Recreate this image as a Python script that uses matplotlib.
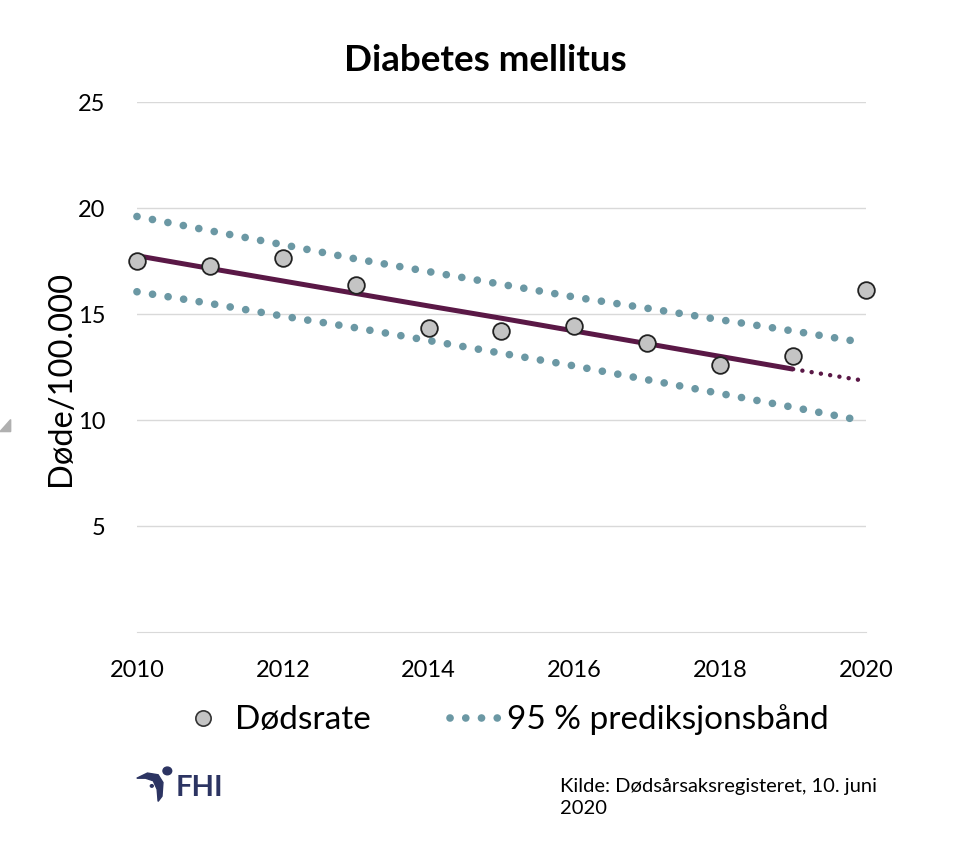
import matplotlib.pyplot as plt
from matplotlib.lines import Line2D
from matplotlib.patches import Polygon, Circle

plt.rcParams['font.family'] = ['Lato', 'DejaVu Sans']

years = [2010, 2011, 2012, 2013, 2014, 2015, 2016, 2017, 2018, 2019, 2020]
dodsrate = [17.5, 17.26, 17.64, 16.37, 14.34, 14.2, 14.43, 13.63, 12.6, 13.02, 16.13]
trend = [17.75, 17.15, 16.56, 15.97, 15.38, 14.8, 14.2, 13.6, 13.0, 12.4]
trend_ext_years = [2019, 2020]
trend_ext = [12.4, 11.84]
upper = [19.6, 18.93, 18.27, 17.6, 17.0, 16.4, 15.8, 15.27, 14.73, 14.2, 13.7]
lower = [16.05, 15.5, 14.9, 14.35, 13.75, 13.15, 12.55, 11.9, 11.25, 10.6, 9.95]

band_color = '#6b98a4'
trend_color = '#5a1846'
navy = '#2c3462'

fig = plt.figure(figsize=(9.7, 8.58), dpi=100)
ax = fig.add_axes([0.1412, 0.2634, 0.7516, 0.6177])

ax.plot(years[:-1] + [2019.85], upper[:-1] + [13.72], color=band_color, lw=5.5,
        linestyle=(0, (0.01, 2.05)), dash_capstyle='round')
ax.plot(years[:-1] + [2019.85], lower[:-1] + [10.03], color=band_color, lw=5.5,
        linestyle=(0, (0.01, 2.05)), dash_capstyle='round')
ax.plot(years[:-1], trend, color=trend_color, lw=3.6, solid_capstyle='butt')
ax.plot(trend_ext_years, trend_ext, color=trend_color, lw=3.2,
        linestyle=(0, (0.01, 2.1)), dash_capstyle='round')
ax.plot(years, dodsrate, 'o', ms=12, mfc='#c4c4c4', mec='#222222', mew=1.3, zorder=5)

ax.set_xlim(2010, 2020)
ax.set_ylim(0, 25)
ax.set_yticks([5, 10, 15, 20, 25])
ax.set_xticks([2010, 2012, 2014, 2016, 2018, 2020])
ax.grid(axis='y', color='#d9d9d9', lw=1)
ax.set_axisbelow(True)
for s in ['left', 'right', 'top']:
    ax.spines[s].set_visible(False)
ax.spines['bottom'].set_color('#d9d9d9')
ax.tick_params(length=0, labelsize=17, colors='black')
ax.tick_params(axis='x', pad=20)
ax.tick_params(axis='y', pad=23)
for ln in ax.lines:
    ln.set_clip_on(False)

fig.text(0.5, 0.929, 'Diabetes mellitus', ha='center', va='center', fontsize=26.5, fontweight='bold')
fig.text(0.063, 0.559, 'Døde/100.000', rotation=90, ha='center', va='center', fontsize=23.5)

handles = [
    Line2D([], [], marker='o', ls='none', ms=11, mfc='#c4c4c4', mec='#333333', mew=1.2),
    Line2D([], [], color=band_color, lw=5.5, linestyle=(0, (0.01, 2.05)), dash_capstyle='round'),
]
fig.legend(handles, ['Dødsrate', '95 % prediksjonsbånd'], loc='center',
           bbox_to_anchor=(0.519, 0.161), ncol=2, frameon=False, fontsize=24,
           handlelength=1.5, handletextpad=0.2, columnspacing=2.4)

fig.text(0.577, 0.071, 'Kilde: Dødsårsaksregisteret, 10. juni\n2020', ha='left', va='center',
         fontsize=14.5, linespacing=1.35)

# FHI logo
fig.text(0.181, 0.082, 'FHI', ha='left', va='center', fontsize=21, fontweight='bold', color=navy)
swoosh = Polygon([[0.141, 0.093], [0.152, 0.099], [0.163, 0.097], [0.168, 0.088],
                  [0.167, 0.072], [0.163, 0.066], [0.162, 0.080], [0.158, 0.090],
                  [0.150, 0.093]], closed=True, transform=fig.transFigure, color=navy)
fig.patches.append(swoosh)
fig.patches.append(Circle((0.1725, 0.1015), 0.0045, transform=fig.transFigure, color=navy))
fig.patches.append(Circle((0.1565, 0.084), 0.0015, transform=fig.transFigure, color=navy))

# small marker at left edge
fig.patches.append(Polygon([[0.0, 0.497], [0.011, 0.511], [0.011, 0.497]], closed=True,
                           transform=fig.transFigure, color='#b0b0b0'))

fig.savefig('out.png', dpi=100)
